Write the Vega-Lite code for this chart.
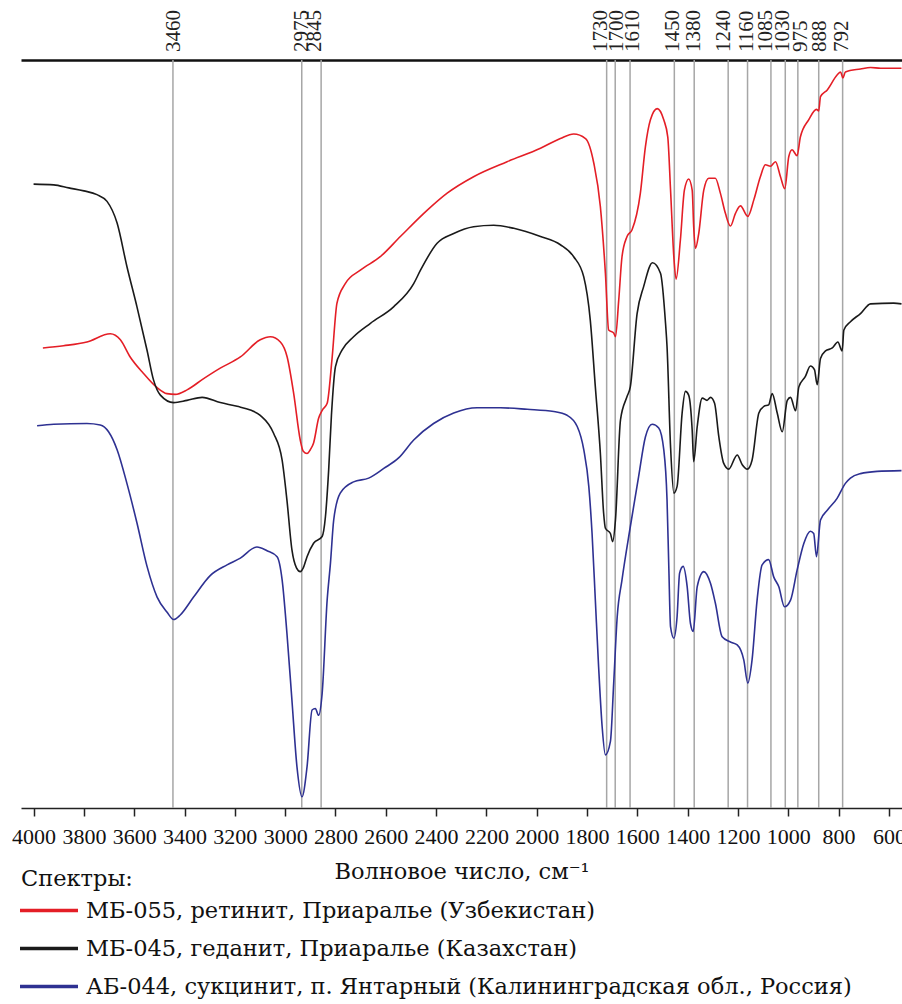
{
  "$schema": "https://vega.github.io/schema/vega-lite/v6.json",
  "width": 881,
  "height": 748,
  "autosize": {"type": "none"},
  "padding": {"left": 21, "top": 60, "right": 0, "bottom": 196},
  "background": "white",
  "config": {"view": {"stroke": null}, "font": "Liberation Serif"},
  "datasets": {
    "refs": [
      {"wn": 3446, "lwn": 3442, "label": "3460"},
      {"wn": 2934, "lwn": 2932, "label": "2975"},
      {"wn": 2857, "lwn": 2882, "label": "2845"},
      {"wn": 1722, "lwn": 1746, "label": "1730"},
      {"wn": 1688, "lwn": 1680, "label": "1700"},
      {"wn": 1629, "lwn": 1616, "label": "1610"},
      {"wn": 1453, "lwn": 1458, "label": "1450"},
      {"wn": 1374, "lwn": 1373, "label": "1380"},
      {"wn": 1239, "lwn": 1254, "label": "1240"},
      {"wn": 1162, "lwn": 1166, "label": "1160"},
      {"wn": 1069, "lwn": 1087, "label": "1085"},
      {"wn": 1012, "lwn": 1020, "label": "1030"},
      {"wn": 962, "lwn": 949, "label": "975"},
      {"wn": 879, "lwn": 872, "label": "888"},
      {"wn": 784, "lwn": 786, "label": "792"}
    ],
    "spectra": [
      {"s": "МБ-055, ретинит, Приаралье (Узбекистан)",
       "wn": [3963,3881,3788,3695,3655,3616,3563,3509,3470,3437,3390,3324,3258,3178,3099,3059,3019,2992,2966,2940,2928,2913,2900,2887,2867,2852,2833,2814,2794,2761,2701,2622,2542,2436,2356,2251,2118,1985,1906,1853,1806,1773,1747,1727,1714,1694,1687,1674,1661,1641,1621,1588,1568,1548,1521,1495,1479,1468,1455,1446,1429,1413,1396,1382,1376,1369,1356,1336,1316,1290,1270,1250,1230,1210,1190,1161,1137,1111,1091,1071,1051,1031,1014,998,985,965,952,919,888,879,872,845,806,792,783,773,713,673,633,550],
       "t": [61.5,61.8,62.3,63.4,62.6,60.3,58.1,56.2,55.4,55.3,55.9,57.4,58.8,60.3,62.6,63.0,62.3,60.3,55.4,49.2,47.7,47.4,47.9,48.8,52.1,53.2,54.1,59.9,67.5,70.1,71.9,73.7,76.4,79.9,82.2,84.4,86.4,88.2,89.5,90.1,89.5,86.2,80.4,71.5,63.9,63.5,63.0,67.9,73.7,76.4,77.3,82.2,88.4,92.0,93.5,92.0,89.7,82.6,73.7,70.7,75.9,82.6,84.1,82.6,77.7,74.8,76.8,82.6,84.2,84.2,82.2,79.5,77.8,79.5,80.5,79.1,81.3,84.4,86.0,85.8,86.4,84.4,82.8,87.1,88.0,87.2,89.7,92.0,93.4,93.2,95.1,96.0,98.0,98.4,97.6,98.4,98.8,99.0,98.9,98.9]},
      {"s": "МБ-045, геданит, Приаралье (Казахстан)",
       "wn": [4000,3920,3860,3800,3748,3708,3668,3629,3589,3549,3523,3496,3443,3390,3330,3258,3191,3138,3099,3046,3012,2993,2973,2955,2940,2928,2913,2887,2853,2840,2827,2816,2800,2774,2728,2661,2569,2489,2462,2396,2330,2251,2171,2091,1985,1906,1853,1813,1787,1767,1747,1734,1727,1707,1698,1687,1667,1641,1628,1601,1575,1540,1508,1488,1482,1468,1455,1442,1422,1409,1396,1382,1376,1362,1342,1323,1309,1293,1276,1257,1237,1203,1183,1163,1144,1117,1097,1078,1064,1044,1024,1004,991,971,958,932,912,896,885,872,852,825,803,786,779,753,713,673,581,550],
       "t": [83.4,83.3,82.9,82.5,82.0,81.1,78.2,72.4,67.0,61.2,57.2,55.2,54.2,54.5,54.9,54.2,53.7,53.2,52.5,50.1,46.5,41.2,34.5,32.1,31.6,32.1,33.6,35.4,36.3,38.9,45.2,52.5,59.0,61.2,63.0,64.8,67.0,70.1,71.9,75.5,76.8,77.7,77.9,77.5,76.4,75.3,73.7,71.0,65.2,56.3,47.4,39.4,37.4,36.7,35.6,38.5,51.9,55.0,56.3,66.1,69.7,72.9,71.5,64.8,61.7,48.3,42.1,43.0,52.8,55.7,55.2,50.5,46.3,51.0,54.8,54.5,54.9,54.1,49.6,46.1,45.3,47.2,45.9,45.3,46.5,52.8,53.7,53.9,55.4,52.8,50.3,54.5,54.9,53.1,56.3,57.7,59.1,58.6,56.6,60.1,61.1,61.5,62.3,61.1,63.9,65.0,66.1,67.4,67.5,67.4]},
      {"s": "АБ-044, сукцинит, п. Янтарный (Калининградская обл., Россия)",
       "wn": [3986,3920,3788,3735,3702,3668,3629,3589,3549,3509,3470,3443,3417,3364,3297,3231,3178,3112,3072,3032,3012,2993,2973,2953,2933,2913,2893,2880,2867,2853,2833,2820,2807,2781,2728,2668,2608,2549,2489,2410,2330,2237,2144,2038,1932,1879,1839,1813,1793,1780,1767,1754,1740,1727,1707,1694,1680,1661,1628,1595,1568,1541,1515,1495,1482,1475,1468,1455,1442,1432,1418,1402,1389,1378,1362,1336,1309,1290,1263,1230,1203,1177,1161,1144,1124,1104,1078,1058,1038,1015,991,965,938,912,899,888,872,845,806,773,753,713,647,550],
       "t": [51.1,51.3,51.4,51.2,50.3,47.9,43.4,38.1,32.3,28.2,26.2,25.2,25.8,28.2,31.1,32.5,33.4,34.9,34.4,33.6,30.5,23.4,14.4,5.5,1.5,5.5,13.1,13.3,12.4,15.3,27.8,32.7,38.5,42.1,43.6,44.1,45.4,46.8,49.2,51.4,52.8,53.5,53.5,53.3,53.0,52.5,51.0,47.9,43.0,36.7,27.8,18.9,10.9,7.1,8.9,16.7,25.6,30.5,37.6,44.3,49.6,51.3,50.8,47.9,41.2,32.3,24.2,22.7,25.6,31.4,32.3,29.6,24.7,23.6,29.6,31.6,30.0,27.4,22.9,22.2,21.8,19.8,16.7,19.8,27.8,32.5,33.2,30.9,29.6,26.9,27.8,31.8,35.4,37.0,36.7,33.6,38.5,39.8,41.4,43.4,44.1,44.7,45.0,45.1]}
    ]
  },
  "layer": [
    {
      "data": {"name": "refs"},
      "mark": {"type": "rule", "color": "#a6a6a6", "strokeWidth": 1.5},
      "encoding": {
        "x": {"field": "wn", "type": "quantitative",
              "scale": {"domain": [548, 4050], "reverse": true, "zero": false, "nice": false},
              "axis": {"orient": "top", "labels": false, "ticks": false, "grid": false, "domain": true,
                       "domainColor": "#111", "domainWidth": 2.5, "title": null}}
      }
    },
    {
      "data": {"name": "refs"},
      "mark": {"type": "text", "angle": 270, "align": "left", "baseline": "middle", "dx": 8,
               "font": "Liberation Serif", "fontSize": 21, "color": "#222"},
      "encoding": {
        "x": {"field": "lwn", "type": "quantitative",
              "scale": {"domain": [548, 4050], "reverse": true, "zero": false, "nice": false}, "axis": null},
        "y": {"datum": 100, "type": "quantitative", "scale": {"domain": [0, 100], "nice": false}, "axis": null},
        "text": {"field": "label"}
      }
    },
    {
      "data": {"name": "spectra"},
      "transform": [{"flatten": ["wn", "t"]}],
      "mark": {"type": "line", "strokeWidth": 1.6, "interpolate": "monotone"},
      "encoding": {
        "x": {"field": "wn", "type": "quantitative",
              "scale": {"domain": [548, 4050], "reverse": true, "zero": false, "nice": false},
              "axis": {"orient": "bottom", "values": [4000,3800,3600,3400,3200,3000,2800,2600,2400,2200,2000,1800,1600,1400,1200,1000,800,600],
                       "format": "d", "tickSize": 8, "tickWidth": 1.5, "tickColor": "#222",
                       "domainColor": "#222", "domainWidth": 1.5, "grid": false,
                       "labelFont": "Liberation Serif", "labelFontSize": 22, "labelColor": "#111",
                       "labelPadding": 10, "labelOverlap": false, "labelFlush": false,
                       "title": "Волновое число, см⁻¹", "titleFont": "DejaVu Serif", "titleFontSize": 22.5,
                       "titleFontWeight": "normal", "titleColor": "#111", "titlePadding": 13}},
        "y": {"field": "t", "type": "quantitative", "scale": {"domain": [0, 100], "nice": false}, "axis": null},
        "order": {"field": "wn", "sort": "descending"},
        "color": {"field": "s", "type": "nominal",
                  "scale": {"domain": ["МБ-055, ретинит, Приаралье (Узбекистан)", "МБ-045, геданит, Приаралье (Казахстан)", "АБ-044, сукцинит, п. Янтарный (Калининградская обл., Россия)"],
                            "range": ["#e41e26", "#1a1a1a", "#2e3192"]},
                  "legend": {"orient": "none", "legendX": 0, "legendY": 808, "direction": "vertical",
                             "title": "Спектры:", "titleFont": "DejaVu Serif", "titleFontSize": 22.5,
                             "titleFontWeight": "normal", "titleColor": "#111", "titlePadding": 8,
                             "labelFont": "DejaVu Serif", "labelFontSize": 22.5, "labelColor": "#111", "labelLimit": 0,
                             "symbolType": "M-2.9,0H2.9", "symbolSize": 400, "symbolStrokeWidth": 3.5,
                             "symbolOffset": 16, "labelOffset": 25, "rowPadding": 14}}
      }
    }
  ],
  "resolve": {"axis": {"x": "independent"}}
}
